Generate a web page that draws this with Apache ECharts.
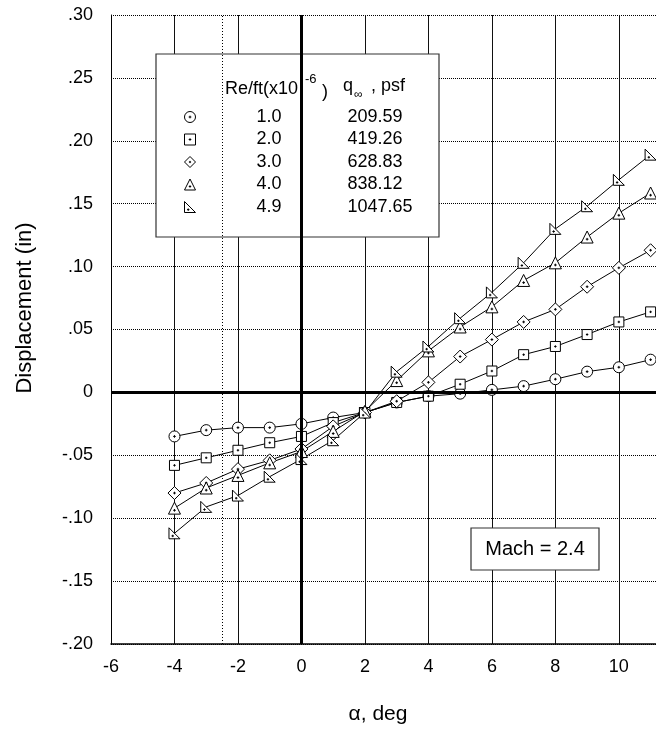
<!DOCTYPE html>
<html>
<head>
<meta charset="utf-8">
<script src="https://cdn.jsdelivr.net/npm/echarts@6/dist/echarts.min.js"></script>
<style>html,body{margin:0;padding:0;background:#fff;}#c{width:656px;height:736px;}</style>
</head>
<body>
<div id="c"></div>
<script>
const alpha = [-4,-3,-2,-1,0,1,2,3,4,5,6,7,8,9,10,11];
const reNames = ['1.0','2.0','3.0','4.0','4.9'];
const qInf = ['209.59','419.26','628.83','838.12','1047.65'];
const re10 = [-0.035,-0.030,-0.028,-0.028,-0.025,-0.020,-0.016,-0.008,-0.003,-0.001,0.002,0.005,0.0105,0.0165,0.020,0.026];
const re20 = [-0.058,-0.052,-0.046,-0.040,-0.035,-0.024,-0.016,-0.008,-0.003,0.0065,0.017,0.030,0.0365,0.046,0.056,0.064];
const re30 = [-0.080,-0.072,-0.061,-0.054,-0.045,-0.027,-0.016,-0.007,0.008,0.0285,0.042,0.056,0.066,0.084,0.099,0.113];
const re40 = [-0.092,-0.076,-0.066,-0.056,-0.047,-0.031,-0.015,0.0094,0.033,0.052,0.068,0.089,0.103,0.1235,0.1425,0.1585];
const re49 = [-0.112,-0.091,-0.082,-0.067,-0.053,-0.038,-0.016,0.0165,0.0365,0.059,0.0795,0.103,0.130,0.148,0.169,0.189];
const values = [re10, re20, re30, re40, re49];
const xTicks = {min:-6, max:11.17, interval:2};
const yTicks = {min:-0.2, max:0.3, interval:0.05};

const symbols = [
  'path://M0,5A5,5,0,1,1,10,5A5,5,0,1,1,0,5ZM3.8,5L6.2,5M5,3.8L5,6.2',
  'path://M0,0L10,0L10,10L0,10ZM3.8,5L6.2,5M5,3.8L5,6.2',
  'path://M5,0L10,5L5,10L0,5ZM4,5L6,5M5,4L5,6',
  'path://M5,0L10,10L0,10ZM3.9,6.8L6.1,6.8M5,5.7L5,7.9',
  'path://M0,0L10,10L0,10ZM2.3,7.4L4.5,7.4M3.4,6.3L3.4,8.5'
];
const sizes = [11,10,13,12,11];
const FONT = 'Liberation Sans, Arial, Helvetica, sans-serif';

const series = values.map((vals, i) => ({
  name: reNames[i],
  type: 'line',
  data: alpha.map((a, j) => [a, vals[j]]),
  symbol: symbols[i],
  symbolSize: sizes[i],
  symbolKeepAspect: true,
  showAllSymbol: true,
  lineStyle: {color:'#000', width:1},
  itemStyle: {color:'#fff', borderColor:'#000', borderWidth:1},
  emphasis: {disabled:true},
  animation: false,
  z: 2
}));
series[0].markLine = {
  silent: true, symbol: 'none', animation: false,
  label: {show:false},
  data: [
    {xAxis: 0, lineStyle:{color:'#000', width:3, type:'solid'}},
    {yAxis: 0, lineStyle:{color:'#000', width:3, type:'solid'}},
    {xAxis: -2.5, lineStyle:{color:'#000', width:1, type:[1,2]}}
  ]
};

function fmtY(v){
  const r = Math.round(v*100)/100;
  if (r === 0) return '0';
  const s = Math.abs(r).toFixed(2).replace(/^0/, '');
  return (r < 0 ? '-' : '') + s;
}
function fmtX(v){
  return (Math.abs(v - Math.round(v)) < 1e-6) ? String(Math.round(v)) : '';
}

const chart = echarts.init(document.getElementById('c'), null, {renderer:'canvas'});
chart.setOption({
  backgroundColor: '#fff',
  animation: false,
  textStyle: {fontFamily: FONT},
  grid: {left:111, top:15, width:545, height:629, containLabel:false},
  xAxis: {
    type:'value', min:xTicks.min, max:xTicks.max, interval:xTicks.interval,
    axisLine:{show:true, onZero:false, lineStyle:{color:'#000', width:1.5}},
    axisTick:{show:false},
    axisLabel:{color:'#000', fontSize:18, margin:14, fontFamily:FONT, formatter:fmtX, showMaxLabel:false},
    splitLine:{show:true, lineStyle:{color:'#111', width:1, type:'solid'}}
  },
  yAxis: {
    type:'value', min:yTicks.min, max:yTicks.max, interval:yTicks.interval,
    axisLine:{show:true, onZero:false, lineStyle:{color:'#000', width:1}},
    axisTick:{show:false},
    axisLabel:{color:'#000', fontSize:18, margin:18, fontFamily:FONT, formatter:fmtY},
    splitLine:{show:true, lineStyle:{color:'#000', width:1, type:[1,1]}}
  },
  legend: {
    show:true, orient:'vertical', left:184, top:107, padding:0,
    itemWidth:11, itemHeight:11, itemGap:2.5, selectedMode:false, z:6,
    itemStyle:{color:'#fff', borderColor:'#000', borderWidth:1},
    data: reNames.map((n,i) => ({name:n, icon:symbols[i]})),
    formatter: name => '{a|' + name + '}{b|' + qInf[reNames.indexOf(name)] + '}',
    textStyle:{
      color:'#000', fontSize:18, fontFamily:FONT, lineHeight:20,
      rich:{
        a:{width:137, align:'center', fontSize:18, fontFamily:FONT, color:'#000', lineHeight:20},
        b:{fontSize:18, fontFamily:FONT, color:'#000', padding:[0,0,0,10], lineHeight:20}
      }
    }
  },
  graphic: [
    {type:'rect', z:4, shape:{x:156, y:54, width:283, height:183}, style:{fill:'#fff', stroke:'#333', lineWidth:1.2}},
    {type:'text', z:6, x:225, y:89, style:{text:'Re/ft(x10', fontSize:18, fontFamily:FONT, fill:'#000', verticalAlign:'middle'}},
    {type:'text', z:6, x:305, y:79, style:{text:'-6', fontSize:13, fontFamily:FONT, fill:'#000', verticalAlign:'middle'}},
    {type:'text', z:6, x:322, y:92, style:{text:')', fontSize:18, fontFamily:FONT, fill:'#000', verticalAlign:'middle'}},
    {type:'text', z:6, x:343, y:86, style:{text:'q', fontSize:18, fontFamily:FONT, fill:'#000', verticalAlign:'middle'}},
    {type:'text', z:6, x:354, y:95, style:{text:'\u221E', fontSize:12, fontFamily:FONT, fill:'#000', verticalAlign:'middle'}},
    {type:'text', z:6, x:371, y:86, style:{text:', psf', fontSize:18, fontFamily:FONT, fill:'#000', verticalAlign:'middle'}},
    {type:'rect', z:4, shape:{x:471, y:528, width:128, height:42}, style:{fill:'#fff', stroke:'#333', lineWidth:1.2}},
    {type:'text', z:6, x:535, y:549, style:{text:'Mach = 2.4', fontSize:20, fontFamily:FONT, fill:'#000', align:'center', verticalAlign:'middle'}},
    {type:'text', z:6, x:25, y:308, rotation:Math.PI/2, style:{text:'Displacement (in)', fontSize:22, fontFamily:FONT, fill:'#000', align:'center', verticalAlign:'middle'}},
    {type:'text', z:6, x:378, y:714, style:{text:'\u03B1, deg', fontSize:21, fontFamily:FONT, fill:'#000', align:'center', verticalAlign:'middle'}}
  ],
  series: series
});
</script>
</body>
</html>
